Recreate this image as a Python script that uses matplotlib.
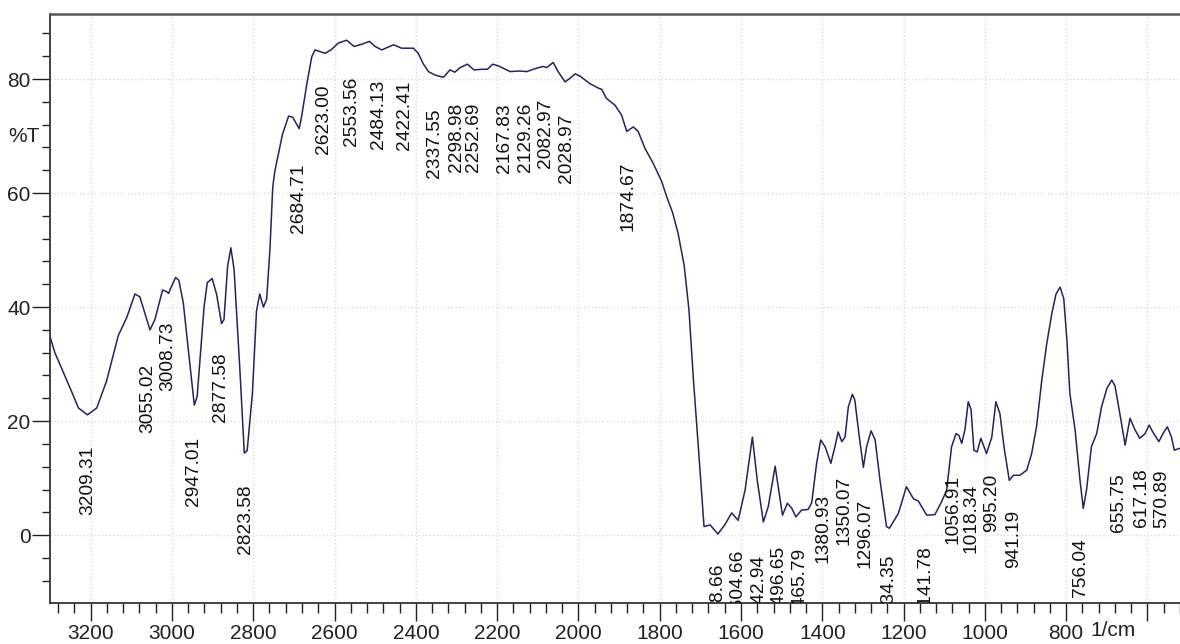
## ====================================== ##
##  FTIR spectrum (%T vs wavenumber)       ##
## ====================================== ##

import matplotlib
matplotlib.use("Agg")
import matplotlib.pyplot as plt
from matplotlib.ticker import MultipleLocator

## Traced spectrum: wavenumber (1/cm) and transmittance (%T)
wavenumber = [3305, 3288, 3247, 3230, 3208, 3185, 3161, 3132, 3111, 3091,
              3079, 3054, 3042, 3023, 3013, 3008, 3005, 2991, 2983, 2972,
              2958, 2945, 2938, 2921, 2913, 2901, 2890, 2878, 2872, 2863,
              2855, 2847, 2833, 2822, 2815, 2802, 2792, 2784, 2775, 2767,
              2759, 2752, 2747, 2728, 2713, 2703, 2687, 2681, 2668, 2656,
              2648, 2623, 2607, 2591, 2570, 2552, 2533, 2514, 2500, 2484,
              2455, 2435, 2406, 2394, 2382, 2369, 2353, 2332, 2316, 2304,
              2291, 2273, 2257, 2238, 2224, 2211, 2197, 2168, 2144, 2127,
              2103, 2087, 2078, 2062, 2050, 2033, 2021, 2008, 1996, 1972,
              1951, 1943, 1931, 1910, 1894, 1881, 1865, 1853, 1836, 1816,
              1795, 1783, 1768, 1755, 1740, 1728, 1717, 1705, 1691, 1676,
              1657, 1640, 1623, 1607, 1590, 1572, 1560, 1545, 1533, 1516,
              1506, 1498, 1486, 1475, 1465, 1451, 1435, 1426, 1414, 1404,
              1393, 1379, 1369, 1361, 1352, 1344, 1336, 1326, 1320, 1310,
              1299, 1291, 1280, 1270, 1258, 1242, 1235, 1213, 1193, 1176,
              1164, 1143, 1123, 1107, 1094, 1082, 1071, 1064, 1057, 1049,
              1041, 1034, 1027, 1019, 1010, 996, 983, 973, 963, 953,
              940, 930, 914, 897, 885, 873, 860, 848, 835, 825,
              815, 806, 798, 791, 778, 766, 758, 750, 738, 725,
              713, 700, 688, 680, 668, 655, 643, 631, 619, 606,
              596, 587, 572, 562, 551, 541, 534, 522]
transmittance = [36.0, 32.0, 25.2, 22.3, 21.1, 22.3, 27.0, 35.0, 38.2, 42.3,
                 41.8, 36.0, 37.8, 43.0, 42.7, 42.4, 43.0, 45.2, 44.7, 40.7,
                 31.4, 22.8, 24.3, 40.0, 44.3, 45.0, 42.2, 37.1, 37.8, 47.2,
                 50.4, 46.5, 29.2, 14.4, 14.8, 24.9, 39.3, 42.3, 40.0, 41.4,
                 50.0, 61.0, 63.8, 70.3, 73.5, 73.3, 71.3, 73.4, 79.2, 83.9,
                 85.1, 84.5, 85.2, 86.3, 86.8, 85.7, 86.1, 86.6, 85.7, 85.1,
                 86.0, 85.4, 85.4, 84.5, 82.7, 81.3, 80.7, 80.3, 81.6, 81.2,
                 82.0, 82.6, 81.6, 81.7, 81.7, 82.6, 82.3, 81.3, 81.4, 81.3,
                 81.9, 82.2, 82.0, 82.9, 81.3, 79.5, 80.1, 80.9, 80.5, 79.2,
                 78.4, 78.2, 76.6, 75.4, 73.7, 70.8, 71.6, 70.8, 67.8, 65.2,
                 62.0, 59.4, 56.5, 53.0, 47.4, 39.5, 27.2, 15.5, 1.5, 1.8,
                 0.2, 1.8, 3.9, 2.6, 7.9, 17.2, 9.6, 2.3, 5.0, 12.1,
                 7.3, 3.5, 5.6, 4.7, 3.2, 4.4, 4.5, 5.7, 12.6, 16.7,
                 15.5, 12.6, 15.5, 18.1, 16.4, 17.2, 22.5, 24.7, 23.7, 17.8,
                 11.9, 15.5, 18.3, 16.7, 9.6, 1.5, 1.2, 3.8, 8.5, 6.4,
                 6.0, 3.5, 3.6, 5.8, 7.9, 15.5, 17.8, 17.5, 16.1, 18.5,
                 23.4, 22.0, 14.9, 14.6, 17.0, 14.3, 17.2, 23.4, 21.3, 15.5,
                 9.6, 10.5, 10.5, 11.4, 14.3, 19.0, 27.2, 33.5, 39.0, 42.3,
                 43.5, 41.5, 34.0, 24.9, 18.4, 9.6, 4.7, 7.9, 15.5, 17.8,
                 22.5, 25.7, 27.2, 26.2, 21.3, 15.8, 20.5, 18.5, 17.0, 17.8,
                 19.3, 18.1, 16.4, 17.8, 19.0, 17.2, 14.9, 15.2]

## Peak labels
peak_labels = ["3209.31", "3055.02", "3008.73", "2947.01", "2877.58", "2823.58",
               "2684.71", "2623.00", "2553.56", "2484.13", "2422.41", "2337.55",
               "2298.98", "2252.69", "2167.83", "2129.26", "2082.97", "2028.97",
               "1874.67", "1658.66", "1604.66", "1542.94", "1496.65", "1465.79",
               "1380.93", "1350.07", "1296.07", "1234.35", "1141.78", "1056.91",
               "1018.34", "995.20", "941.19", "756.04", "655.75", "617.18", "570.89"]

x_ticks = [3200, 3000, 2800, 2600, 2400, 2200, 2000, 1800, 1600, 1400, 1200, 1000, 800, 600]
x_tick_labels = ["3200", "3000", "2800", "2600", "2400", "2200", "2000",
                 "1800", "1600", "1400", "1200", "1000", "800", ""]
y_ticks = [0, 20, 40, 60, 80]

## where the labels are drawn (the software spreads them apart a little)
label_x = [3208, 3059, 3010, 2948, 2880, 2820,
           2689, 2626, 2558, 2492, 2427, 2353,
           2301, 2257, 2181, 2131, 2080, 2029,
           1878, 1660, 1611, 1559, 1508, 1457,
           1398, 1347, 1295, 1238, 1147, 1078,
           1033, 983, 930, 764, 672, 614, 565]
label_top = [15.7, 30.1, 37.4, 17.2, 32.0, 8.9,
             65.1, 79.1, 80.4, 79.9, 79.8, 74.9,
             75.9, 75.9, 75.7, 75.9, 76.6, 74.0,
             65.5, -4.8, -2.4, -3.3, -1.7, -2.1,
             7.3, 10.5, 6.4, -3.3, -1.8, 10.5,
             9.1, 10.8, 4.4, -0.6, 10.8, 11.7, 11.6]

tick_font = ["Liberation Sans Narrow", "Liberation Sans", "DejaVu Sans"]
label_font = ["Liberation Sans", "DejaVu Sans"]

fig = plt.figure(figsize=(11.8, 6.44), dpi=100)
ax = fig.add_axes([50 / 1180, 41 / 644, 1130 / 1180, 589 / 644])

ax.plot(wavenumber, transmittance, color="#23235e", linewidth=1.1)

for lab, lx, top in zip(peak_labels, label_x, label_top):
    ax.text(lx, top, lab, rotation=90, ha="center", va="top",
            fontsize=13.8, family=label_font, color="#111111", clip_on=True)

ax.set_xlim(3300, 520)
ax.set_ylim(-11.9, 91.4)

ax.set_xticks(x_ticks)
ax.set_xticklabels(x_tick_labels, family=tick_font, fontsize=15, color="#222222")
ax.xaxis.set_minor_locator(MultipleLocator(40))
ax.set_yticks(y_ticks)
ax.set_yticklabels([str(v) for v in y_ticks], family=tick_font, fontsize=15, color="#222222")
ax.yaxis.set_minor_locator(MultipleLocator(4))

ax.tick_params(axis="x", which="major", length=13, width=1, pad=2, color="#222222")
ax.tick_params(axis="x", which="minor", length=7, width=1, color="#222222")
ax.tick_params(axis="y", which="major", length=13, width=1, pad=1, color="#222222")
ax.tick_params(axis="y", which="minor", length=6, width=1, color="#222222")

ax.grid(True, which="major", color="#dcdcdc", linestyle=":", linewidth=1)

ax.spines["right"].set_visible(False)
ax.spines["top"].set_color("#555555")
ax.spines["top"].set_linewidth(1.8)
ax.spines["left"].set_color("#333333")
ax.spines["left"].set_linewidth(1.3)
ax.spines["bottom"].set_color("#333333")
ax.spines["bottom"].set_linewidth(1.3)

fig.text(8 / 1180, 1 - 137 / 644, "%T", family=tick_font, fontsize=15,
         va="center", ha="left", color="#222222")
fig.text(1090 / 1180, 1 - 631 / 644, "1/cm", family=tick_font, fontsize=15,
         va="center", ha="left", color="#222222")

fig.savefig("out.png", dpi=100)
